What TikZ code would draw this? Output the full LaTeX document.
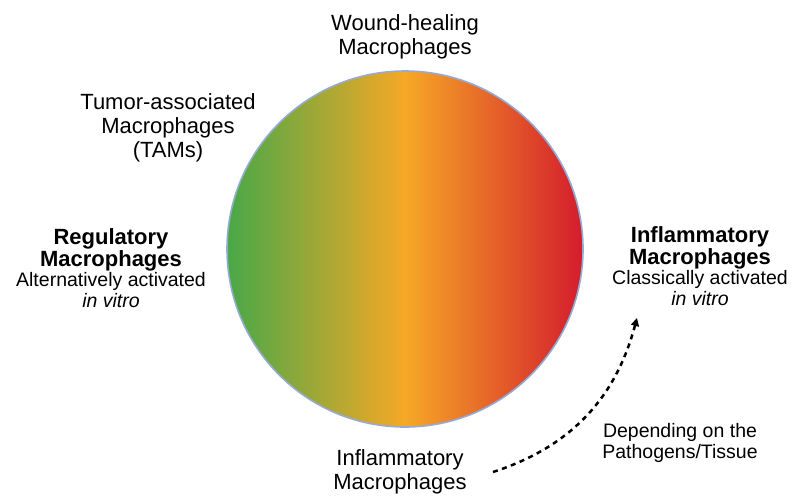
\documentclass[tikz,border=0pt]{standalone}
\usepackage{fontspec}
\setmainfont{Liberation Sans}
\usepackage{tikz}
\usetikzlibrary{arrows.meta,positioning,calc}
\definecolor{mgreen}{RGB}{72,168,72}
\definecolor{morange}{RGB}{246,168,38}
\definecolor{mred}{RGB}{212,28,44}
\definecolor{rimblue}{RGB}{150,170,212}

\begin{document}
\begin{tikzpicture}[x=1pt,y=-1pt,
  lbl/.style={font=\fontsize{22}{24}\selectfont,align=center,inner sep=0pt},
  grp/.style={font=\fontsize{22}{20.5}\selectfont,align=center,inner sep=0pt},
  note/.style={font=\fontsize{19.5}{20.5}\selectfont,align=center,inner sep=0pt}]
  \useasboundingbox (0,0) rectangle (795,496);
  % the spectrum disk
  \node[circle,minimum size=356pt,inner sep=0pt,left color=mgreen,right color=mred,
    middle color=morange,draw=rimblue,line width=1.6pt] (disk) at (405,249) {};
  % labels round the disk
  \node[lbl] (wound) at (405,37) {Wound-healing\\Macrophages};
  \node[lbl] (tams) at (168,128) {Tumor-associated\\Macrophages\\(TAMs)};
  \node[grp] (regul) at (111,268) {\textbf{Regulatory}\\\textbf{Macrophages}\\
    {\fontsize{19.5}{19}\selectfont Alternatively activated}\\{\fontsize{19.5}{19}\selectfont\itshape in vitro}};
  \node[grp] (inflr) at (700,266) {\textbf{Inflammatory}\\\textbf{Macrophages}\\
    {\fontsize{19.5}{19}\selectfont Classically activated}\\{\fontsize{19.5}{19}\selectfont\itshape in vitro}};
  \node[lbl] (inflb) at (400,472) {Inflammatory\\Macrophages};
  \node[note] (depend) at (680,443) {Depending on the\\Pathogens/Tissue};
  % dashed switch arrow
  \coordinate (arrs) at (493,472);
  \coordinate (arre) at (637,318);
  \draw[line width=2.5pt,dash pattern=on 5pt off 4.5pt,-{Triangle[length=8pt,width=8pt]}]
    (arrs) to[out=18,in=-105] (arre);
\end{tikzpicture}
\end{document}
